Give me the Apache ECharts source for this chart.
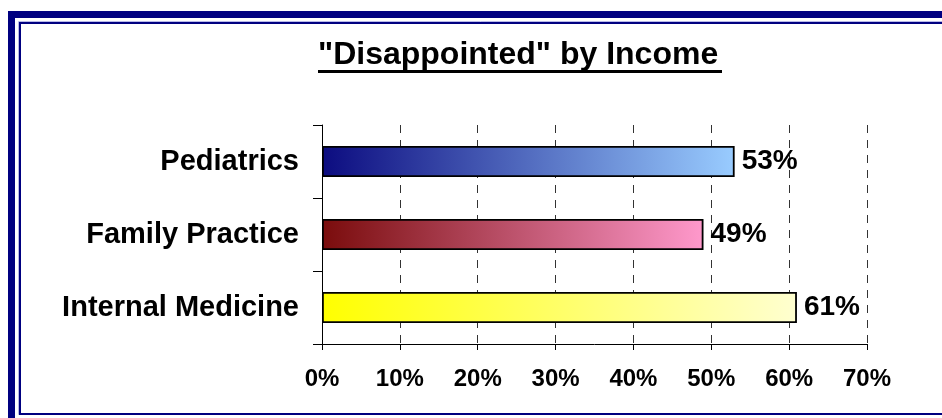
<!DOCTYPE html>
<html>
<head>
<meta charset="utf-8">
<script src="https://cdn.jsdelivr.net/npm/echarts@6/dist/echarts.min.js"></script>
<style>
html, body { margin: 0; padding: 0; background: #fff; }
#chart { width: 942px; height: 418px; }
</style>
</head>
<body>
<div id="chart"></div>
<script>
// bottom to top, as the category axis draws them
var categories = ['Internal Medicine', 'Family Practice', 'Pediatrics'];
var values = [61, 49, 53];
var xTicks = [0, 10, 20, 30, 40, 50, 60, 70];

// gradient ends for each bar (dark -> light)
var barColors = [
    ['#ffff00', '#ffffd0'],
    ['#7a0c0c', '#ff99cc'],
    ['#0c0c80', '#99ccff']
];

(function(){
    var chart = echarts.init(document.getElementById('chart'));
    var font = '"Liberation Sans", Arial, sans-serif';

    var option = {
        animation: false,
        title: {
            text: '"Disappointed" by Income',
            left: 318,
            top: 39,
            padding: 0,
            textStyle: {
                fontFamily: font,
                fontSize: 32,
                fontWeight: 'bold',
                color: '#000'
            }
        },
        graphic: [
            // outer navy frame
            {
                type: 'rect',
                shape: { x: 11.5, y: 14.5, width: 1000, height: 410 },
                style: { fill: 'none', stroke: '#000080', lineWidth: 7 },
                silent: true
            },
            // light line in the gap
            {
                type: 'rect',
                shape: { x: 18.5, y: 21.5, width: 1000, height: 393 },
                style: { fill: 'none', stroke: '#b8b8e8', lineWidth: 1 },
                silent: true
            },
            // inner thin frame
            {
                type: 'rect',
                shape: { x: 20, y: 23, width: 1000, height: 391 },
                style: { fill: 'none', stroke: '#000080', lineWidth: 2 },
                silent: true
            },
            // title underline
            {
                type: 'line',
                shape: { x1: 318, y1: 71.5, x2: 722, y2: 71.5 },
                style: { stroke: '#000', lineWidth: 3 },
                silent: true
            }
        ],
        grid: {
            left: 322,
            right: 75,
            top: 125,
            bottom: 74,
            containLabel: false
        },
        xAxis: {
            type: 'value',
            min: xTicks[0],
            max: xTicks[xTicks.length - 1],
            interval: 10,
            axisLine: { show: true, lineStyle: { color: '#000', width: 1 } },
            axisTick: { show: true, length: 6, lineStyle: { color: '#000' } },
            axisLabel: {
                margin: 23,
                formatter: '{value}%',
                fontFamily: font,
                fontSize: 24,
                fontWeight: 'bold',
                color: '#000'
            },
            splitLine: {
                show: true,
                lineStyle: { color: '#333', width: 1, type: [8, 7] }
            }
        },
        yAxis: {
            type: 'category',
            data: categories,
            axisLine: { show: true, lineStyle: { color: '#000', width: 1 } },
            axisTick: { show: true, length: 9, lineStyle: { color: '#000' } },
            axisLabel: {
                margin: 23,
                fontFamily: font,
                fontSize: 29,
                fontWeight: 'bold',
                color: '#000'
            },
            splitLine: { show: false }
        },
        series: [
            {
                type: 'bar',
                barWidth: 31,
                data: values.map(function(v, i){
                    return {
                        value: v,
                        itemStyle: {
                            color: new echarts.graphic.LinearGradient(0, 0, 1, 0, [
                                { offset: 0, color: barColors[i][0] },
                                { offset: 1, color: barColors[i][1] }
                            ]),
                            borderColor: '#000',
                            borderWidth: 1.8
                        }
                    };
                }),
                label: {
                    show: true,
                    position: 'right',
                    distance: 7,
                    formatter: '{c}%',
                    fontFamily: font,
                    fontSize: 28,
                    fontWeight: 'bold',
                    color: '#000'
                }
            }
        ]
    };

    chart.setOption(option);
})();
</script>
</body>
</html>
